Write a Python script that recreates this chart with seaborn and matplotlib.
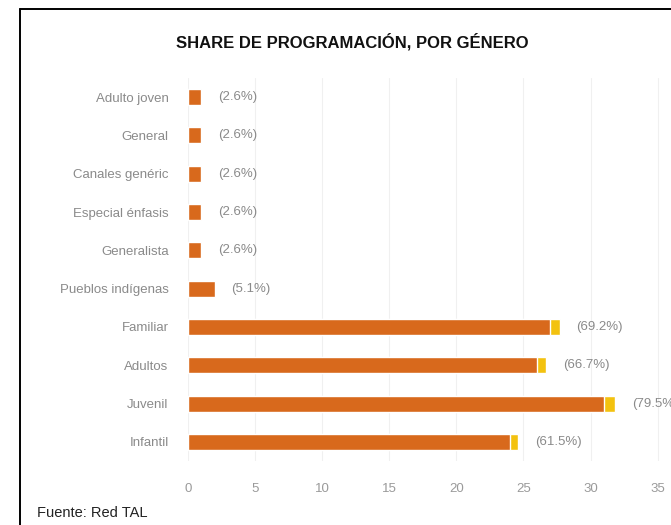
import matplotlib
matplotlib.use("Agg")
import matplotlib.pyplot as plt
import seaborn as sns
import pandas as pd
from matplotlib.lines import Line2D

categories = ["Adulto joven", "General", "Canales genéric", "Especial énfasis",
              "Generalista", "Pueblos indígenas", "Familiar", "Adultos",
              "Juvenil", "Infantil"]
counts = [1, 1, 1, 1, 1, 2, 27, 26, 31, 24]
extra = [0, 0, 0, 0, 0, 0, 0.7, 0.7, 0.85, 0.6]
pct_labels = ["(2.6%)", "(2.6%)", "(2.6%)", "(2.6%)", "(2.6%)", "(5.1%)",
              "(69.2%)", "(66.7%)", "(79.5%)", "(61.5%)"]
xticks = [0, 5, 10, 15, 20, 25, 30, 35]

sns.set_theme(style="white")
plt.rcParams['font.family'] = ['Liberation Sans', 'DejaVu Sans']

df = pd.DataFrame({"cat": categories, "count": counts,
                   "total": [c + e for c, e in zip(counts, extra)]})

fig = plt.figure(figsize=(6.71, 5.25), dpi=100)
ax = fig.add_axes([188 / 671, 1 - 461 / 525, 1 - 188 / 671, (461 - 78) / 525])

sns.barplot(data=df, y="cat", x="total", color="#f3c20f", width=0.42,
            ax=ax, orient="h", saturation=1)
sns.barplot(data=df, y="cat", x="count", color="#d8691c", width=0.42,
            ax=ax, orient="h", saturation=1)

ax.set_xlim(0, 36)
ax.set_xticks(xticks)
ax.set_xticklabels([str(t) for t in xticks])
ax.set_xlabel("")
ax.set_ylabel("")
for s in ax.spines.values():
    s.set_visible(False)
ax.grid(axis="x", color="#f0f0f0", linewidth=0.8)
ax.set_axisbelow(True)
ax.tick_params(axis="x", length=0, pad=16, labelsize=9.5, labelcolor="#9a9a9a")
ax.tick_params(axis="y", length=0, pad=14, labelsize=9.5, labelcolor="#8a8a8a")

for i, (t, lab) in enumerate(zip(df["total"], pct_labels)):
    ax.annotate(lab, xy=(t, i), xytext=(12, 0), textcoords="offset points",
                va="center", ha="left", fontsize=9.5, color="#8a8a8a")

fig.text(352 / 671, 1 - 42 / 525, "SHARE DE PROGRAMACIÓN, POR GÉNERO",
         ha="center", va="center", fontsize=12, fontweight="bold",
         color="#111111")
fig.text(37 / 671, 1 - 513 / 525, "Fuente: Red TAL", ha="left", va="center",
         fontsize=10.5, color="#222222")

# frame: top and left lines
fig.add_artist(Line2D([20 / 671, 20 / 671], [0, 1 - 9 / 525],
                      transform=fig.transFigure, color="black", linewidth=1.4))
fig.add_artist(Line2D([20 / 671, 1], [1 - 9 / 525, 1 - 9 / 525],
                      transform=fig.transFigure, color="black", linewidth=1.4))

fig.savefig("out.png", dpi=100)
